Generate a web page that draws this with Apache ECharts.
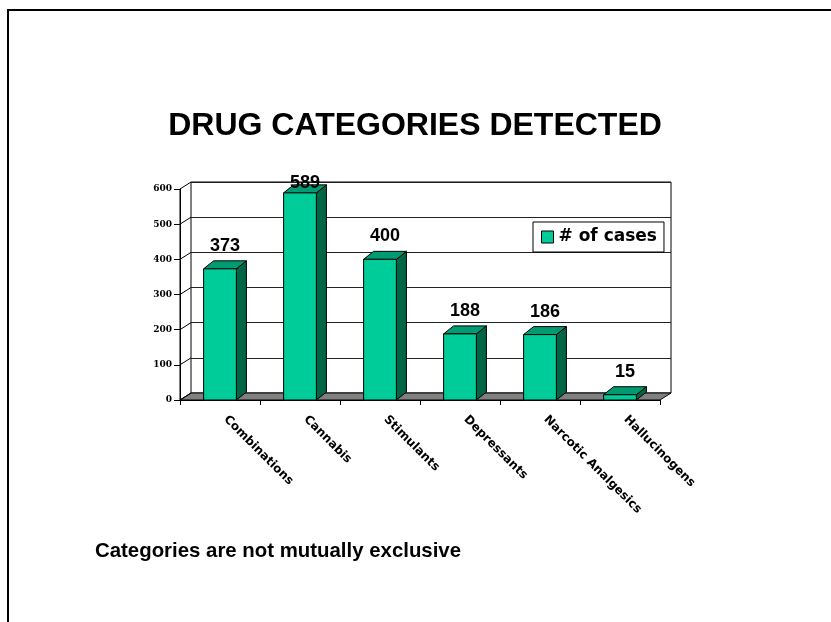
<!DOCTYPE html>
<html>
<head>
<meta charset="utf-8">
<script src="https://cdn.jsdelivr.net/npm/echarts@6/dist/echarts.min.js"></script>
<style>html,body{margin:0;padding:0;background:#fff}#c{width:831px;height:622px}</style>
</head>
<body>
<div id="c"></div>
<script>
const categories = ['Combinations', 'Cannabis', 'Stimulants', 'Depressants', 'Narcotic Analgesics', 'Hallucinogens'];
const cases = [373, 589, 400, 188, 186, 15];
const seriesName = '# of cases';
const yTicks = [0, 100, 200, 300, 400, 500, 600];
const titleText = 'DRUG CATEGORIES DETECTED';
const noteText = 'Categories are not mutually exclusive';

const FRONT = '#00CC99', TOP = '#009A73', SIDE = '#006646';
const DX = 10, DY = 8;     // bar depth
const WX = 11, WY = 7;     // wall depth

const chart = echarts.init(document.getElementById('c'));

const barData = cases.map((v, i) => [i, v]);

chart.setOption({
  animation: false,
  backgroundColor: '#fff',
  graphic: [
    { type: 'rect', z: -10, shape: { x: 8, y: 10, width: 900, height: 700 },
      style: { fill: 'none', stroke: '#000', lineWidth: 2 } },
    { type: 'text', x: 415, y: 126,
      style: { text: titleText, font: 'bold 32px "Liberation Sans", Arial, sans-serif',
        fill: '#000', align: 'center', verticalAlign: 'middle', textAlign: 'center', textVerticalAlign: 'middle' } },
    { type: 'text', x: 95, y: 551,
      style: { text: noteText, font: 'bold 20.4px "Liberation Sans", Arial, sans-serif',
        fill: '#000', align: 'left', verticalAlign: 'middle', textAlign: 'left', textVerticalAlign: 'middle' } }
  ],
  legend: {
    left: 533, top: 222,
    orient: 'vertical',
    backgroundColor: '#fff', borderColor: '#000', borderWidth: 1,
    padding: [5, 7, 5, 8],
    itemWidth: 12, itemHeight: 12, itemGap: 0,
    textStyle: { fontFamily: '"DejaVu Sans", sans-serif', fontWeight: 'bold', fontSize: 17, color: '#000', lineHeight: 20, padding: [0, 0, 0, 0] },
    data: [{ name: seriesName, icon: 'rect', itemStyle: { color: FRONT, borderColor: '#000', borderWidth: 1 } }]
  },
  grid: [
    { left: 180, right: 171, top: 189, bottom: 222, containLabel: false },
    { left: 191, right: 160, top: 182, bottom: 229, show: true, backgroundColor: '#fff', borderColor: '#000', borderWidth: 1, z: -5 }
  ],
  xAxis: [
    { type: 'category', gridIndex: 0, data: categories,
      axisLine: { show: true, lineStyle: { color: '#000', width: 1 } },
      axisTick: { show: true, length: 5, lineStyle: { color: '#000' } },
      axisLabel: { interval: 0, rotate: -45, margin: 12, padding: [0, 0, 0, 8], color: '#000',
        fontFamily: '"DejaVu Sans", sans-serif', fontWeight: 'bold', fontSize: 12 } },
    { type: 'category', gridIndex: 1, data: categories, show: false }
  ],
  yAxis: [
    { type: 'value', gridIndex: 0, min: 0, max: 600, interval: 100,
      axisLine: { show: true, lineStyle: { color: '#000', width: 1 } },
      axisTick: { show: true, length: 6, lineStyle: { color: '#000' } },
      splitLine: { show: false },
      axisLabel: { margin: 8, color: '#000', fontFamily: '"DejaVu Serif", serif', fontWeight: 'bold', fontSize: 9 } },
    { type: 'value', gridIndex: 1, min: 0, max: 600, interval: 100,
      axisLine: { show: false }, axisTick: { show: false }, axisLabel: { show: false },
      splitLine: { show: true, lineStyle: { color: '#222', width: 1 } } }
  ],
  series: [
    {
      type: 'custom', name: 'floor', xAxisIndex: 0, yAxisIndex: 0, z: 2,
      silent: true,
      data: [[0, 0]],
      renderItem: function (params, api) {
        const cs = params.coordSys;
        const x0 = cs.x, x1 = cs.x + cs.width;
        const y0 = api.coord([0, 0])[1];
        const children = [{
          type: 'polygon',
          shape: { points: [[x0, y0], [x1, y0], [x1 + WX, y0 - WY], [x0 + WX, y0 - WY]] },
          style: { fill: '#808080', stroke: '#000', lineWidth: 1 }
        }];
        yTicks.forEach(function (t) {
          const y = api.coord([0, t])[1];
          children.push({ type: 'line', shape: { x1: x0, y1: y, x2: x0 + WX, y2: y - WY },
            style: { stroke: '#000', lineWidth: 1 } });
        });
        children.push({ type: 'line', shape: { x1: x0, y1: api.coord([0, yTicks[yTicks.length-1]])[1], x2: x0, y2: y0 },
          style: { stroke: '#000', lineWidth: 1 } });
        return { type: 'group', children: children };
      }
    },
    {
      type: 'custom', name: seriesName, xAxisIndex: 0, yAxisIndex: 0, z: 3,
      itemStyle: { color: FRONT },
      encode: { x: 0, y: 1 },
      data: barData,
      renderItem: function (params, api) {
        const i = api.value(0), v = api.value(1);
        const base = api.coord([i, 0]);
        const top = api.coord([i, v]);
        const bw = api.size([1, 0])[0] * 0.41;
        const l = base[0] - bw / 2, r = base[0] + bw / 2;
        const yb = base[1], yt = top[1];
        const minY = api.coord([0, 600])[1] - 6;
        const ly = Math.max(yt - DY - 15, minY);
        return {
          type: 'group',
          children: [
            { type: 'polygon', shape: { points: [[r, yt], [r + DX, yt - DY], [r + DX, yb - DY], [r, yb]] },
              style: { fill: SIDE, stroke: '#000', lineWidth: 1 } },
            { type: 'polygon', shape: { points: [[l, yt], [l + DX, yt - DY], [r + DX, yt - DY], [r, yt]] },
              style: { fill: TOP, stroke: '#000', lineWidth: 1 } },
            { type: 'rect', shape: { x: l, y: yt, width: bw, height: yb - yt },
              style: { fill: FRONT, stroke: '#000', lineWidth: 1 } },
            { type: 'text', x: base[0] + 5, y: ly,
              style: { text: String(v), font: 'bold 18px "Liberation Sans", Arial, sans-serif', fill: '#000',
                align: 'center', verticalAlign: 'middle', textAlign: 'center', textVerticalAlign: 'middle' } }
          ]
        };
      }
    }
  ]
});
</script>
</body>
</html>
